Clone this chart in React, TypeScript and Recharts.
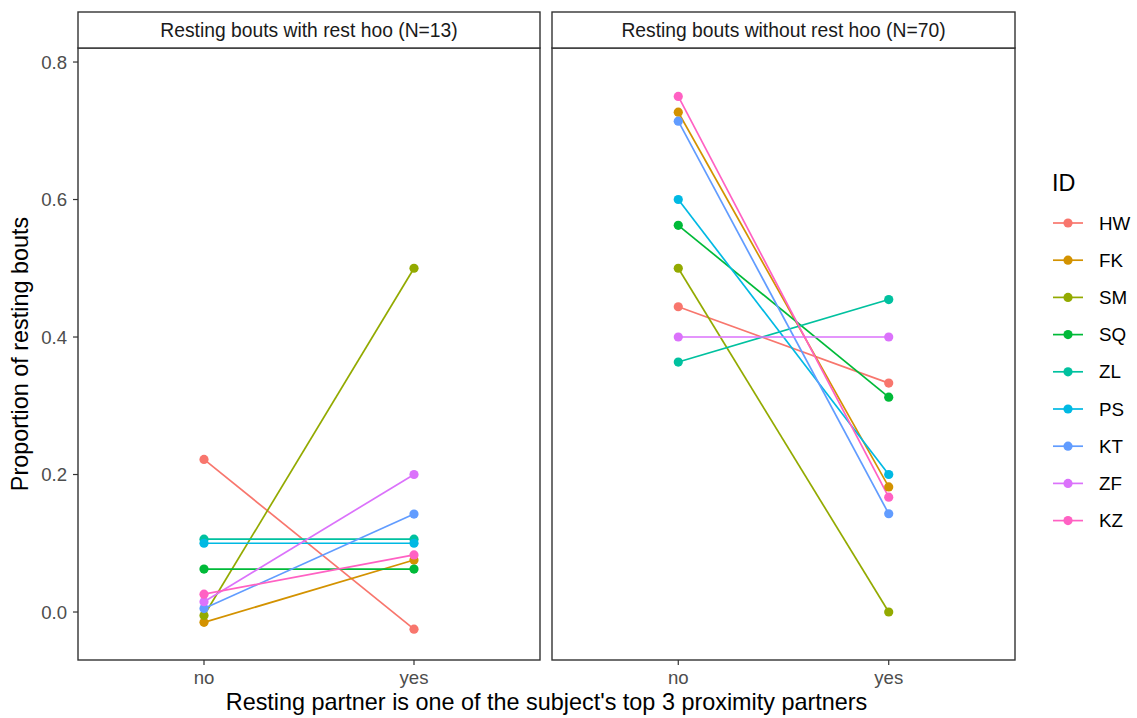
import React from "react";
import { LineChart, Line, XAxis, YAxis } from "recharts";

const categories = ["no", "yes"];
const ids = ["HW", "FK", "SM", "SQ", "ZL", "PS", "KT", "ZF", "KZ"];
const colors = ["#F8766D", "#D39200", "#93AA00", "#00BA38", "#00C19F", "#00B9E3", "#619CFF", "#DB72FB", "#FF61C3"];

const panelTitles = ["Resting bouts with rest hoo (N=13)", "Resting bouts without rest hoo (N=70)"];

const withHooNo = [0.222, -0.015, -0.005, 0.0625, 0.106, 0.1, 0.005, 0.015, 0.026];
const withHooYes = [-0.025, 0.0756, 0.5, 0.0625, 0.106, 0.1, 0.1425, 0.2, 0.083];
const withoutHooNo = [0.444, 0.727, 0.5, 0.5625, 0.3636, 0.6, 0.714, 0.4, 0.75];
const withoutHooYes = [0.333, 0.182, 0.0, 0.3125, 0.4545, 0.2, 0.1429, 0.4, 0.167];

const yTicks = [0, 0.2, 0.4, 0.6, 0.8];

const FONT = "'Liberation Sans', Arial, Helvetica, sans-serif";
const W = 1137;
const H = 718;
const PANEL_TOP = 48;
const PANEL_BOTTOM = 660;
const STRIP_TOP = 12;
const panels = [
  { x0: 78, x1: 540 },
  { x0: 552, x1: 1015 },
];
const Y_DOMAIN: [number, number] = [-0.0698, 0.8204];

function buildRows(noVals: number[], yesVals: number[]) {
  return categories.map((c, ci) => {
    const row: Record<string, number | string> = { x: ci + 1, cat: c };
    ids.forEach((id, i) => {
      row[id] = ci === 0 ? noVals[i] : yesVals[i];
    });
    return row;
  });
}

const leftRows = buildRows(withHooNo, withHooYes);
const rightRows = buildRows(withoutHooNo, withoutHooYes);

function Panel({ rows, index }: { rows: any[]; index: number }) {
  const p = panels[index];
  const showY = index === 0;
  const yAxisWidth = 78;
  return (
    <div style={{ position: "absolute", left: 0, top: 0 }}>
      <LineChart
        width={W}
        height={H}
        data={rows}
        margin={{
          top: PANEL_TOP,
          bottom: H - PANEL_BOTTOM - 30,
          left: showY ? p.x0 - yAxisWidth : p.x0,
          right: W - p.x1,
        }}
      >
        <XAxis
          dataKey="x"
          type="number"
          domain={[0.4, 2.6]}
          ticks={[1, 2]}
          tickFormatter={(v: number) => categories[v - 1]}
          height={30}
          axisLine={false}
          tickSize={5}
          tickMargin={6}
          tickLine={{ stroke: "#333333", strokeWidth: 1.2 }}
          tick={{ fill: "#4D4D4D", fontSize: 18.6, fontFamily: FONT }}
          allowDataOverflow
        />
        <YAxis
          type="number"
          domain={Y_DOMAIN}
          ticks={yTicks}
          allowDataOverflow
          hide={!showY}
          width={yAxisWidth}
          axisLine={false}
          tickSize={5}
          tickMargin={6}
          tickLine={{ stroke: "#333333", strokeWidth: 1.2 }}
          tick={{ fill: "#4D4D4D", fontSize: 18.6, fontFamily: FONT }}
          tickFormatter={(v: number) => v.toFixed(1)}
        />
        {ids.map((id, i) => (
          <Line
            key={id}
            dataKey={id}
            type="linear"
            stroke={colors[i]}
            strokeWidth={1.7}
            isAnimationActive={false}
            dot={{ r: 4.6, fill: colors[i], stroke: colors[i], strokeWidth: 0 }}
            activeDot={false}
          />
        ))}
      </LineChart>
    </div>
  );
}

export default function App() {
  const legendX = 1053;
  const legendY0 = 223;
  const legendStep = 37.2;
  return (
    <div style={{ position: "absolute", left: 0, top: 0, width: W, height: H, background: "#FFFFFF", overflow: "hidden" }}>
      <Panel rows={leftRows} index={0} />
      <Panel rows={rightRows} index={1} />
      <svg width={W} height={H} style={{ position: "absolute", left: 0, top: 0, pointerEvents: "none" }}>
        {panels.map((p, i) => (
          <g key={i}>
            <rect x={p.x0} y={PANEL_TOP} width={p.x1 - p.x0} height={PANEL_BOTTOM - PANEL_TOP} fill="none" stroke="#333333" strokeWidth={1.4} />
            <rect x={p.x0} y={STRIP_TOP} width={p.x1 - p.x0} height={PANEL_TOP - STRIP_TOP} fill="#FFFFFF" stroke="#333333" strokeWidth={1.4} />
            <text x={(p.x0 + p.x1) / 2} y={(STRIP_TOP + PANEL_TOP) / 2} dy="0.35em" textAnchor="middle" fontSize={19.3} fontFamily={FONT} fill="#1A1A1A">
              {panelTitles[i]}
            </text>
          </g>
        ))}
        <text x={(panels[0].x0 + panels[1].x1) / 2} y={710} textAnchor="middle" fontSize={23.4} fontFamily={FONT} fill="#000000">
          Resting partner is one of the subject's top 3 proximity partners
        </text>
        <text transform={`translate(28, ${(PANEL_TOP + PANEL_BOTTOM) / 2}) rotate(-90)`} textAnchor="middle" fontSize={23.4} fontFamily={FONT} fill="#000000">
          Proportion of resting bouts
        </text>
        <text x={1052} y={191} fontSize={23.4} fontFamily={FONT} fill="#000000">ID</text>
        {ids.map((id, i) => {
          const cy = legendY0 + i * legendStep;
          return (
            <g key={id}>
              <line x1={legendX} x2={legendX + 30} y1={cy} y2={cy} stroke={colors[i]} strokeWidth={1.7} />
              <circle cx={legendX + 15} cy={cy} r={4.6} fill={colors[i]} />
              <text x={1099} y={cy} dy="0.35em" fontSize={18.8} fontFamily={FONT} fill="#000000">{id}</text>
            </g>
          );
        })}
      </svg>
    </div>
  );
}
